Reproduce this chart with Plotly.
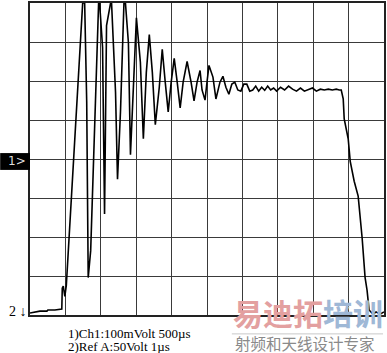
import plotly.graph_objects as go

# Oscilloscope trace: time (µs, 500 µs/div) and voltage (mV, 100 mV/div, centre = 0)
time_us = [0, 84, 140, 239, 253, 351, 449, 456, 470, 492, 513, 744, 772, 801, 822, 857,
           969, 983, 1025, 1053, 1067, 1081, 1138, 1152, 1208, 1236, 1278, 1327, 1348, 1390,
           1419, 1461, 1503, 1559, 1601, 1643, 1685, 1728, 1770, 1826, 1868, 1910, 1952, 1994,
           2037, 2079, 2121, 2163, 2219, 2275, 2317, 2360, 2402, 2430, 2472, 2500, 2528, 2584,
           2626, 2683, 2725, 2767, 2809, 2851, 2893, 2935, 2978, 3020, 3062, 3104, 3146, 3188,
           3230, 3272, 3315, 3357, 3399, 3441, 3483, 3539, 3596, 3652, 3708, 3764, 3820, 3876,
           3933, 3989, 4045, 4101, 4157, 4213, 4270, 4326, 4368, 4396, 4424, 4438, 4494, 4523,
           4579, 4635, 4691, 4733, 4761, 4789, 4846, 4888, 4944, 5000]
volt_mv = [-395, -392, -390, -390, -387, -387, -385, -331, -326, -352, -324, 400, 400, 146, -304, -235,
           400, 400, 286, -141, 95, 342, 400, 400, 171, -52, 121, 400, 400, 298,
           11, 197, 362, 248, 52, 222, 319, 222, 88, 184, 281, 197, 121, 197,
           258, 197, 131, 197, 250, 197, 149, 197, 227, 177, 151, 197, 240, 210,
           154, 197, 212, 184, 166, 192, 197, 177, 174, 192, 192, 174, 177, 187,
           174, 184, 176, 187, 177, 182, 174, 184, 177, 187, 179, 174, 182, 174,
           179, 182, 174, 179, 177, 179, 177, 179, 177, 177, 154, 103, 52, -6,
           -57, -95, -202, -304, -337, -387, -398, -392, -398, -392, -395]

x_ticks = [0, 500, 1000, 1500, 2000, 2500, 3000, 3500, 4000, 4500, 5000]
y_ticks = [-400, -300, -200, -100, 0, 100, 200, 300, 400]
legend_lines = ["1)Ch1:100mVolt 500µs", "2)Ref A:50Volt 1µs"]

fig = go.Figure()
fig.add_trace(go.Scatter(x=time_us, y=volt_mv, mode="lines",
                         line=dict(color="black", width=1.6), hoverinfo="skip"))

axis_common = dict(showgrid=True, gridcolor="#3a3a3a", gridwidth=1, zeroline=False,
                   showticklabels=False, ticks="", showline=True, linecolor="#222",
                   linewidth=1.5, mirror=True)
fig.update_xaxes(range=[0, 5000], tickvals=x_ticks, **axis_common)
fig.update_yaxes(range=[-400, 400], tickvals=y_ticks, **axis_common)

serif = "Liberation Serif"
# channel-1 marker box
fig.add_shape(type="rect", xref="paper", yref="paper", x0=-30/356, x1=0,
              y0=0.465, y1=0.519, fillcolor="black", line=dict(width=0), layer="above")
fig.add_annotation(text="1>", xref="paper", yref="y", x=-0.006, y=-4, xanchor="right",
                   showarrow=False, font=dict(family="DejaVu Sans", size=12, color="#dddddd"))
# channel-2 marker
fig.add_annotation(text="2 ↓", xref="paper", yref="y", x=-0.004, y=-390, xanchor="right",
                   yanchor="middle", showarrow=False, font=dict(family=serif, size=14, color="black"))

# scale read-out text
fig.add_annotation(text=legend_lines[0], xref="paper", yref="paper", x=37/356, y=-19/314,
                   xanchor="left", yanchor="middle", showarrow=False, borderpad=0,
                   font=dict(family=serif, size=13, color="black"))
fig.add_annotation(text=legend_lines[1], xref="paper", yref="paper", x=37/356, y=-31.5/314,
                   xanchor="left", yanchor="middle", showarrow=False, borderpad=0,
                   font=dict(family=serif, size=13, color="black"))

# watermark
fig.add_annotation(text="<b><span style='color:#e3a0a0'>易迪拓</span><span style='color:#9fb8d6'>培训</span></b>",
                   xref="paper", yref="paper", x=202/356, y=3/314,
                   xanchor="left", yanchor="middle", showarrow=False,
                   font=dict(family="Noto Sans CJK SC", size=30))
fig.add_shape(type="line", xref="paper", yref="paper", x0=203/356, x1=355/356,
              y0=-19/314, y1=-19/314, line=dict(color="#c8c8c8", width=1))
fig.add_annotation(text="射频和天线设计专家", xref="paper", yref="paper", x=204/356, y=-28/314,
                   xanchor="left", yanchor="middle", showarrow=False,
                   font=dict(family="Noto Sans CJK SC", size=15.5, color="#8a8a8a"))

fig.update_layout(width=387, height=353, margin=dict(l=30, r=1, t=1, b=38),
                  paper_bgcolor="white", plot_bgcolor="white", showlegend=False)
fig.write_html("out.html")
